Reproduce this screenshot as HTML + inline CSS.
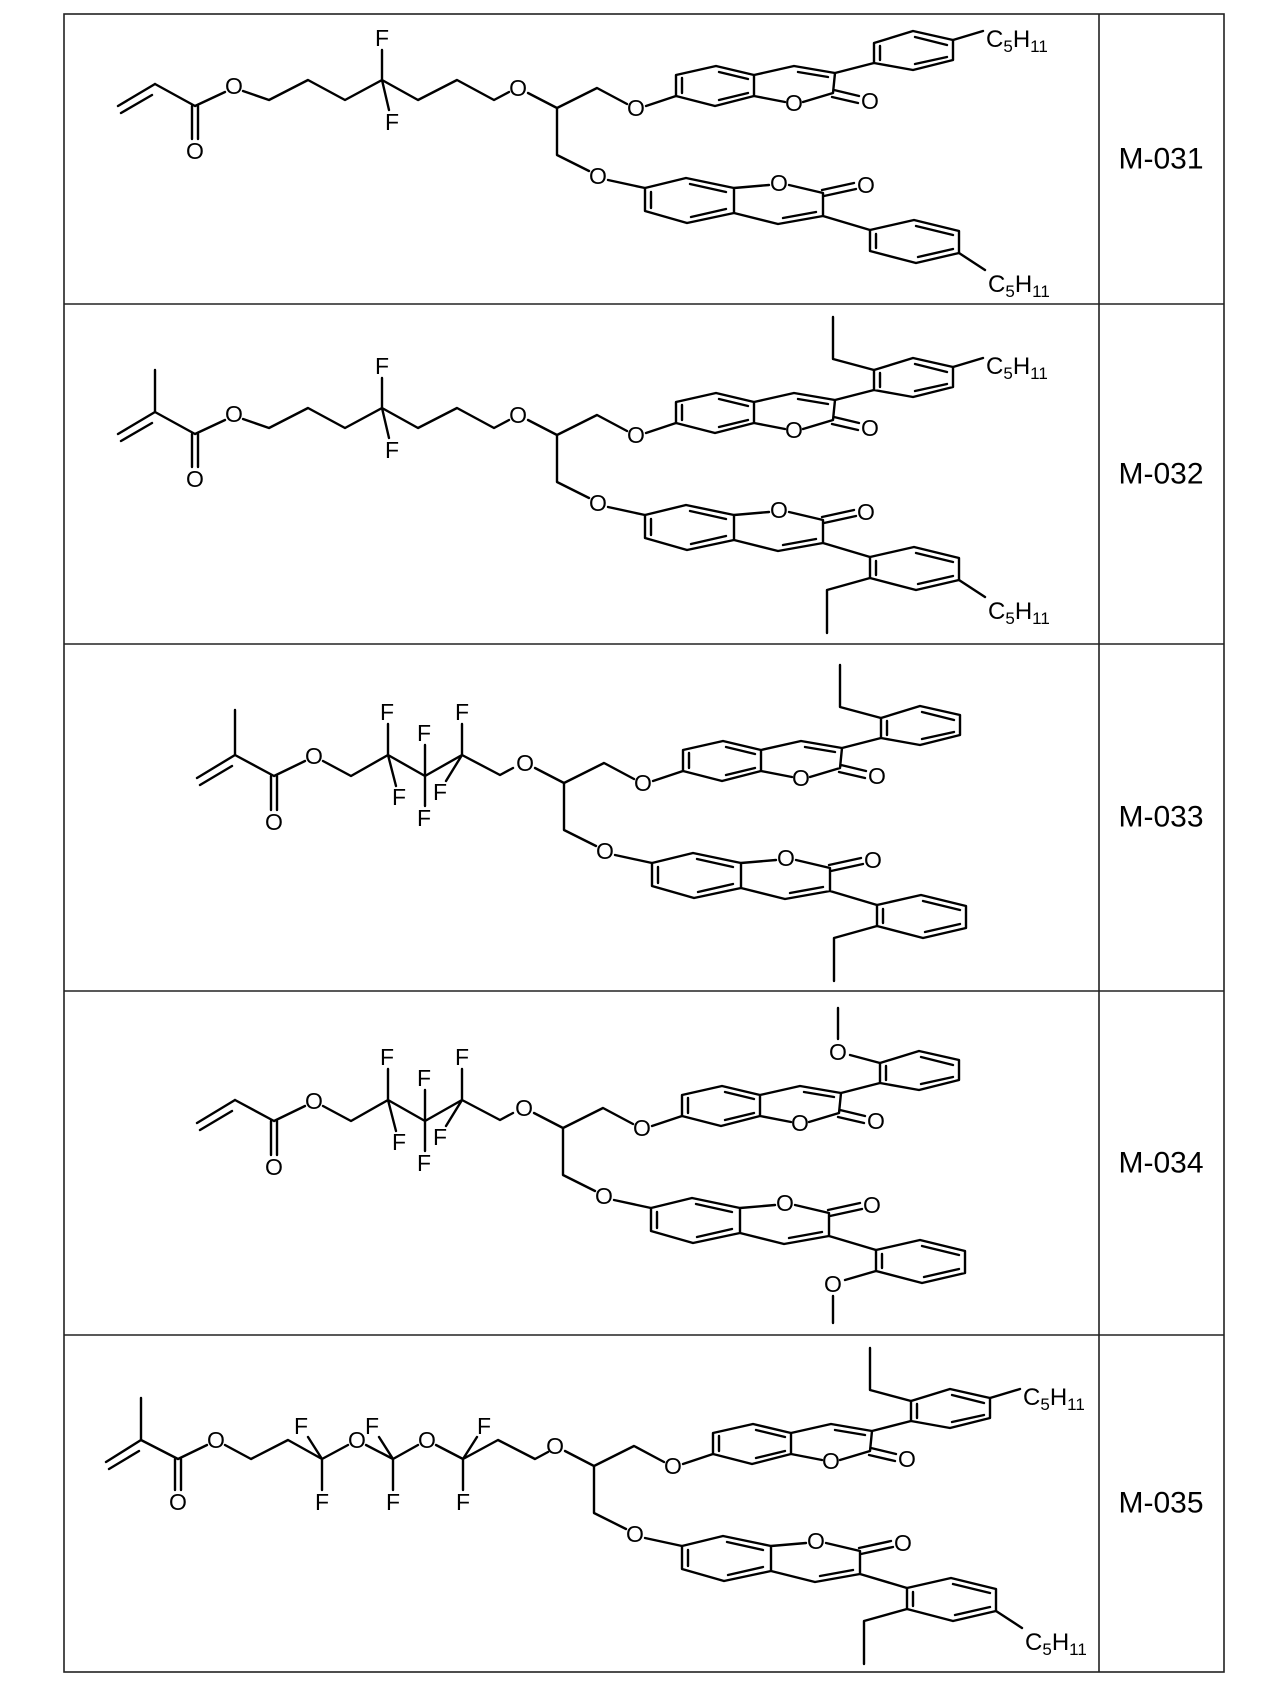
<!DOCTYPE html>
<html><head><meta charset="utf-8">
<style>
html,body{margin:0;padding:0;background:#fff;}
svg{display:block;}
.b{fill:none;stroke:#000;stroke-width:2.4;stroke-linejoin:round;stroke-linecap:round;}
.t{fill:none;stroke:#222;stroke-width:1.6;}
.a{font-family:"Liberation Sans",sans-serif;font-size:23px;text-anchor:middle;dominant-baseline:central;fill:#000;}
.c{font-family:"Liberation Sans",sans-serif;font-size:24px;fill:#000;}
.c tspan.s{font-size:17px;}
.m{font-family:"Liberation Sans",sans-serif;font-size:30px;text-anchor:middle;dominant-baseline:central;fill:#000;}
</style></head>
<body>
<svg width="1280" height="1684" viewBox="0 0 1280 1684" xmlns="http://www.w3.org/2000/svg">
<rect class="t" x="64" y="14" width="1160" height="1658"/>
<path class="t" d="M1099,14 L1099,1672 M64,304 L1224,304 M64,644 L1224,644 M64,991 L1224,991 M64,1335 L1224,1335"/>
<text class="m" x="1161" y="159">M-031</text>
<text class="m" x="1161" y="474">M-032</text>
<text class="m" x="1161" y="817">M-033</text>
<text class="m" x="1161" y="1163">M-034</text>
<text class="m" x="1161" y="1503">M-035</text>

<!-- Row 1 left -->
<path class="b" d="M118,106 L155,84 M121,113 L152,95 M155,84 L195,106 M192,106 L192,139 M198,106 L198,139 M195,106 L225,92 M243,91 L269,100 L308,80 L345,100 L382,80 L418,100 L457,80 L494,100 L509,92 M382,80 L382,50 M382,80 L389,110"/>
<text class="a" x="195" y="151">O</text>
<text class="a" x="234" y="86">O</text>
<text class="a" x="382" y="38">F</text>
<text class="a" x="392" y="122">F</text>

<!-- Row 2 left -->
<g transform="translate(0,328)">
<path class="b" d="M118,106 L155,84 M121,113 L152,95 M155,84 L155,42 M155,84 L195,106 M192,106 L192,139 M198,106 L198,139 M195,106 L225,92 M243,91 L269,100 L308,80 L345,100 L382,80 L418,100 L457,80 L494,100 L509,92 M382,80 L382,50 M382,80 L389,110"/>
<text class="a" x="195" y="151">O</text>
<text class="a" x="234" y="86">O</text>
<text class="a" x="382" y="38">F</text>
<text class="a" x="392" y="122">F</text>
</g>

<!-- Row 3 left -->
<path class="b" d="M197,778 L235,755 M200,785 L232,766 M235,755 L235,710 M235,755 L274,776 M271,776 L271,810 M277,776 L277,810 M274,776 L305,761 M323,761 L351,776 L388,755 L425,776 L462,755 L500,775 L513,768 M388,755 L388,724 M388,755 L396,786 M425,776 L425,745 M425,776 L425,806 M462,755 L462,724 M462,755 L446,781"/>
<text class="a" x="274" y="822">O</text>
<text class="a" x="314" y="756">O</text>
<text class="a" x="387" y="712">F</text>
<text class="a" x="399" y="797">F</text>
<text class="a" x="424" y="733">F</text>
<text class="a" x="424" y="818">F</text>
<text class="a" x="462" y="712">F</text>
<text class="a" x="440" y="792">F</text>

<!-- Row 4 left -->
<g transform="translate(0,345)">
<path class="b" d="M197,778 L235,755 M200,785 L232,766 M235,755 L274,776 M271,776 L271,810 M277,776 L277,810 M274,776 L305,761 M323,761 L351,776 L388,755 L425,776 L462,755 L500,775 L513,768 M388,755 L388,724 M388,755 L396,786 M425,776 L425,745 M425,776 L425,806 M462,755 L462,724 M462,755 L446,781"/>
<text class="a" x="274" y="822">O</text>
<text class="a" x="314" y="756">O</text>
<text class="a" x="387" y="712">F</text>
<text class="a" x="399" y="797">F</text>
<text class="a" x="424" y="733">F</text>
<text class="a" x="424" y="818">F</text>
<text class="a" x="462" y="712">F</text>
<text class="a" x="440" y="792">F</text>
</g>

<!-- Row 5 left -->
<path class="b" d="M106,1462 L141,1440 M109,1469 L139,1451 M141,1440 L141,1398 M141,1440 L178,1459 M175,1459 L175,1490 M181,1459 L181,1490 M178,1459 L207,1445 M225,1445 L251,1459 L288,1440 L322,1459 L348,1445 M366,1445 L393,1459 L418,1445 M436,1445 L463,1459 L498,1440 L535,1459 L548,1452 M322,1459 L308,1437 M322,1459 L322,1490 M393,1459 L379,1437 M393,1459 L393,1490 M463,1459 L477,1437 M463,1459 L463,1490"/>
<text class="a" x="178" y="1502">O</text>
<text class="a" x="216" y="1440">O</text>
<text class="a" x="357" y="1440">O</text>
<text class="a" x="427" y="1440">O</text>
<text class="a" x="301" y="1426">F</text>
<text class="a" x="322" y="1502">F</text>
<text class="a" x="372" y="1426">F</text>
<text class="a" x="393" y="1502">F</text>
<text class="a" x="484" y="1426">F</text>
<text class="a" x="463" y="1502">F</text>

<!-- Row 1 right -->
<g transform="translate(557,108)">
<path class="b" d="M-29,-15 L0,0 L40,-20 L70,-4 M89,-2 L119,-12 M0,0 L0,47 L32,63 M51,72 L88,80"/>
<text class="a" x="-39" y="-20">O</text><text class="a" x="79" y="0">O</text><text class="a" x="41" y="68">O</text>
<path class="b" d="M119,-12 L158,-2 L197,-12 L197,-33 L159,-42 L119,-33 Z M125,-30 L125,-15 M162,-36 L191,-29 M162,-8 L191,-15 M197,-12 L228,-6 M246,-6 L276,-15 L278,-35 L237,-42 L197,-33 M241,-36 L271,-31 M277,-18 L302,-12 M275,-11 L301,-5 M278,-35 L317,-45"/>
<text class="a" x="237" y="-5">O</text><text class="a" x="313" y="-7">O</text>
<path class="b" d="M317,-45 L317,-65 L356,-77 L396,-68 L396,-48 L356,-38 Z M323,-62 L323,-48 M358,-71 L390,-63 M358,-44 L390,-51"/>
<path class="b" d="M88,80 L129,70 L177,80 L177,105 L130,115 L88,103 Z M94,84 L94,100 M133,76 L169,84 M169,101 L134,109 M177,80 L212,77 M232,77 L266,85 L266,108 L221,116 L177,105 M259,104 L226,110 M265,82 L297,75 M267,88 L299,81 M266,108 L313,122"/>
<text class="a" x="222" y="75">O</text><text class="a" x="309" y="77">O</text>
<path class="b" d="M313,122 L357,112 L402,123 L402,145 L359,155 L313,143 Z M319,126 L319,140 M359,118 L396,127 M396,141 L361,149"/>
<path class="b" d="M396,-68 L426,-77 M402,145 L428,162"/>
<text class="c" x="429" y="-61">C<tspan class="s" dy="5">5</tspan><tspan dy="-5">H</tspan><tspan class="s" dy="5">11</tspan></text>
<text class="c" x="431" y="184">C<tspan class="s" dy="5">5</tspan><tspan dy="-5">H</tspan><tspan class="s" dy="5">11</tspan></text>
</g>

<!-- Row 2 right -->
<g transform="translate(557,435)">
<path class="b" d="M-29,-15 L0,0 L40,-20 L70,-4 M89,-2 L119,-12 M0,0 L0,47 L32,63 M51,72 L88,80"/>
<text class="a" x="-39" y="-20">O</text><text class="a" x="79" y="0">O</text><text class="a" x="41" y="68">O</text>
<path class="b" d="M119,-12 L158,-2 L197,-12 L197,-33 L159,-42 L119,-33 Z M125,-30 L125,-15 M162,-36 L191,-29 M162,-8 L191,-15 M197,-12 L228,-6 M246,-6 L276,-15 L278,-35 L237,-42 L197,-33 M241,-36 L271,-31 M277,-18 L302,-12 M275,-11 L301,-5 M278,-35 L317,-45"/>
<text class="a" x="237" y="-5">O</text><text class="a" x="313" y="-7">O</text>
<path class="b" d="M317,-45 L317,-65 L356,-77 L396,-68 L396,-48 L356,-38 Z M323,-62 L323,-48 M358,-71 L390,-63 M358,-44 L390,-51"/>
<path class="b" d="M88,80 L129,70 L177,80 L177,105 L130,115 L88,103 Z M94,84 L94,100 M133,76 L169,84 M169,101 L134,109 M177,80 L212,77 M232,77 L266,85 L266,108 L221,116 L177,105 M259,104 L226,110 M265,82 L297,75 M267,88 L299,81 M266,108 L313,122"/>
<text class="a" x="222" y="75">O</text><text class="a" x="309" y="77">O</text>
<path class="b" d="M313,122 L357,112 L402,123 L402,145 L359,155 L313,143 Z M319,126 L319,140 M359,118 L396,127 M396,141 L361,149"/>
<path class="b" d="M396,-68 L426,-77 M402,145 L428,162 M317,-65 L276,-76 L276,-118 M313,143 L270,155 L270,198"/>
<text class="c" x="429" y="-61">C<tspan class="s" dy="5">5</tspan><tspan dy="-5">H</tspan><tspan class="s" dy="5">11</tspan></text>
<text class="c" x="431" y="184">C<tspan class="s" dy="5">5</tspan><tspan dy="-5">H</tspan><tspan class="s" dy="5">11</tspan></text>
</g>

<!-- Row 3 right -->
<g transform="translate(564,783)">
<path class="b" d="M-29,-15 L0,0 L40,-20 L70,-4 M89,-2 L119,-12 M0,0 L0,47 L32,63 M51,72 L88,80"/>
<text class="a" x="-39" y="-20">O</text><text class="a" x="79" y="0">O</text><text class="a" x="41" y="68">O</text>
<path class="b" d="M119,-12 L158,-2 L197,-12 L197,-33 L159,-42 L119,-33 Z M125,-30 L125,-15 M162,-36 L191,-29 M162,-8 L191,-15 M197,-12 L228,-6 M246,-6 L276,-15 L278,-35 L237,-42 L197,-33 M241,-36 L271,-31 M277,-18 L302,-12 M275,-11 L301,-5 M278,-35 L317,-45"/>
<text class="a" x="237" y="-5">O</text><text class="a" x="313" y="-7">O</text>
<path class="b" d="M317,-45 L317,-65 L356,-77 L396,-68 L396,-48 L356,-38 Z M323,-62 L323,-48 M358,-71 L390,-63 M358,-44 L390,-51"/>
<path class="b" d="M88,80 L129,70 L177,80 L177,105 L130,115 L88,103 Z M94,84 L94,100 M133,76 L169,84 M169,101 L134,109 M177,80 L212,77 M232,77 L266,85 L266,108 L221,116 L177,105 M259,104 L226,110 M265,82 L297,75 M267,88 L299,81 M266,108 L313,122"/>
<text class="a" x="222" y="75">O</text><text class="a" x="309" y="77">O</text>
<path class="b" d="M313,122 L357,112 L402,123 L402,145 L359,155 L313,143 Z M319,126 L319,140 M359,118 L396,127 M396,141 L361,149"/>
<path class="b" d="M317,-65 L276,-76 L276,-118 M313,143 L270,155 L270,198"/>
</g>

<!-- Row 4 right -->
<g transform="translate(563,1128)">
<path class="b" d="M-29,-15 L0,0 L40,-20 L70,-4 M89,-2 L119,-12 M0,0 L0,47 L32,63 M51,72 L88,80"/>
<text class="a" x="-39" y="-20">O</text><text class="a" x="79" y="0">O</text><text class="a" x="41" y="68">O</text>
<path class="b" d="M119,-12 L158,-2 L197,-12 L197,-33 L159,-42 L119,-33 Z M125,-30 L125,-15 M162,-36 L191,-29 M162,-8 L191,-15 M197,-12 L228,-6 M246,-6 L276,-15 L278,-35 L237,-42 L197,-33 M241,-36 L271,-31 M277,-18 L302,-12 M275,-11 L301,-5 M278,-35 L317,-45"/>
<text class="a" x="237" y="-5">O</text><text class="a" x="313" y="-7">O</text>
<path class="b" d="M317,-45 L317,-65 L356,-77 L396,-68 L396,-48 L356,-38 Z M323,-62 L323,-48 M358,-71 L390,-63 M358,-44 L390,-51"/>
<path class="b" d="M88,80 L129,70 L177,80 L177,105 L130,115 L88,103 Z M94,84 L94,100 M133,76 L169,84 M169,101 L134,109 M177,80 L212,77 M232,77 L266,85 L266,108 L221,116 L177,105 M259,104 L226,110 M265,82 L297,75 M267,88 L299,81 M266,108 L313,122"/>
<text class="a" x="222" y="75">O</text><text class="a" x="309" y="77">O</text>
<path class="b" d="M313,122 L357,112 L402,123 L402,145 L359,155 L313,143 Z M319,126 L319,140 M359,118 L396,127 M396,141 L361,149"/>
<path class="b" d="M317,-65 L287,-73 M275,-89 L275,-120 M313,143 L282,152 M270,168 L270,195"/>
<text class="a" x="275" y="-76">O</text>
<text class="a" x="270" y="156">O</text>
</g>

<!-- Row 5 right -->
<g transform="translate(594,1466)">
<path class="b" d="M-29,-15 L0,0 L40,-20 L70,-4 M89,-2 L119,-12 M0,0 L0,47 L32,63 M51,72 L88,80"/>
<text class="a" x="-39" y="-20">O</text><text class="a" x="79" y="0">O</text><text class="a" x="41" y="68">O</text>
<path class="b" d="M119,-12 L158,-2 L197,-12 L197,-33 L159,-42 L119,-33 Z M125,-30 L125,-15 M162,-36 L191,-29 M162,-8 L191,-15 M197,-12 L228,-6 M246,-6 L276,-15 L278,-35 L237,-42 L197,-33 M241,-36 L271,-31 M277,-18 L302,-12 M275,-11 L301,-5 M278,-35 L317,-45"/>
<text class="a" x="237" y="-5">O</text><text class="a" x="313" y="-7">O</text>
<path class="b" d="M317,-45 L317,-65 L356,-77 L396,-68 L396,-48 L356,-38 Z M323,-62 L323,-48 M358,-71 L390,-63 M358,-44 L390,-51"/>
<path class="b" d="M88,80 L129,70 L177,80 L177,105 L130,115 L88,103 Z M94,84 L94,100 M133,76 L169,84 M169,101 L134,109 M177,80 L212,77 M232,77 L266,85 L266,108 L221,116 L177,105 M259,104 L226,110 M265,82 L297,75 M267,88 L299,81 M266,108 L313,122"/>
<text class="a" x="222" y="75">O</text><text class="a" x="309" y="77">O</text>
<path class="b" d="M313,122 L357,112 L402,123 L402,145 L359,155 L313,143 Z M319,126 L319,140 M359,118 L396,127 M396,141 L361,149"/>
<path class="b" d="M396,-68 L426,-77 M402,145 L428,162 M317,-65 L276,-76 L276,-118 M313,143 L270,155 L270,198"/>
<text class="c" x="429" y="-61">C<tspan class="s" dy="5">5</tspan><tspan dy="-5">H</tspan><tspan class="s" dy="5">11</tspan></text>
<text class="c" x="431" y="184">C<tspan class="s" dy="5">5</tspan><tspan dy="-5">H</tspan><tspan class="s" dy="5">11</tspan></text>
</g>
</svg>
</body></html>
